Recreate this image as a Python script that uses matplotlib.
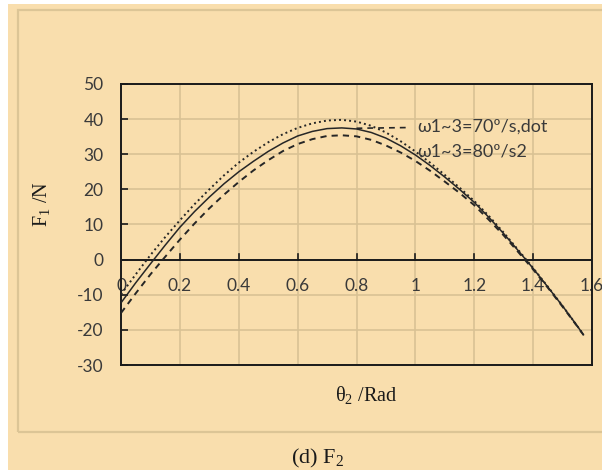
import numpy as np
import matplotlib
matplotlib.use("Agg")
import matplotlib.pyplot as plt
from matplotlib.patches import Rectangle

# ---- data ----
theta = [0.0, 0.05, 0.1, 0.15, 0.2, 0.25, 0.3, 0.35, 0.4, 0.45, 0.5, 0.55, 0.6, 0.65, 0.7, 0.75,
         0.8, 0.85, 0.9, 0.95, 1.0, 1.05, 1.1, 1.15, 1.2, 1.25, 1.3, 1.35, 1.4, 1.45, 1.5, 1.55, 1.5708]
f_solid = [-12.3, -6.6, -1.2, 4.1, 9.2, 13.7, 17.8, 21.6, 25.0, 28.0, 30.8, 33.2, 35.2, 36.5, 37.3, 37.5,
           37.2, 36.2, 34.6, 32.4, 29.8, 26.8, 23.5, 20.0, 16.3, 12.0, 7.4, 2.5, -2.5, -7.8, -13.2, -18.9, -21.4]
f_dot = [-9.9, -4.2, 1.3, 6.4, 11.2, 15.8, 20.0, 24.0, 27.6, 30.7, 33.4, 35.7, 37.5, 38.8, 39.6, 39.8,
         39.3, 38.1, 36.2, 33.7, 30.8, 27.6, 24.1, 20.5, 16.7, 12.4, 7.7, 2.7, -2.4, -7.7, -13.2, -18.9, -21.4]
f_dash = [-15.2, -9.6, -4.2, 0.8, 5.7, 10.3, 14.6, 18.5, 22.1, 25.4, 28.3, 30.9, 32.9, 34.3, 35.2, 35.4,
          35.1, 34.1, 32.5, 30.5, 28.1, 25.3, 22.2, 19.0, 15.5, 11.3, 6.9, 2.1, -2.8, -8.0, -13.4, -19.0, -21.4]

xticks = [0, 0.2, 0.4, 0.6, 0.8, 1.0, 1.2, 1.4, 1.6]
xtick_labels = ["0", "0.2", "0.4", "0.6", "0.8", "1", "1.2", "1.4", "1.6"]
yticks = [-30, -20, -10, 0, 10, 20, 30, 40, 50]
label_70 = "ω1~3=70º/s,dot"
label_80 = "ω1~3=80º/s2"

W, H = 602, 470
BG = "#F9DEAD"
GRID = "#D9C294"
INK = "#262626"
TXT = "#3a3a3a"

plt.rcParams['mathtext.fontset'] = 'custom'
plt.rcParams['mathtext.rm'] = 'Liberation Serif'
plt.rcParams['axes.unicode_minus'] = False

fig = plt.figure(figsize=(W / 100, H / 100), dpi=100, facecolor="white")

# page background and inner frame
fig.patches.append(Rectangle((8 / W, 0), 1 - 8 / W, 1 - 4 / H, transform=fig.transFigure,
                             facecolor=BG, edgecolor="none", zorder=-5))
fig.patches.append(Rectangle((18 / W, 1 - 432 / H), 1.0, (432 - 10) / H, transform=fig.transFigure,
                             facecolor="none", edgecolor="#DCC596", linewidth=1.6, zorder=-4))

ax_l, ax_r, ax_t, ax_b = 121, 592, 84, 365
ax = fig.add_axes([ax_l / W, 1 - ax_b / H, (ax_r - ax_l) / W, (ax_b - ax_t) / H])
ax.set_zorder(2)
ax.set_facecolor("none")
ax.set_xlim(0, 1.6)
ax.set_ylim(-30, 50)

ax.set_xticks(xticks)
ax.set_yticks(yticks)
ax.grid(True, color=GRID, linewidth=1.2, zorder=0)
ax.set_axisbelow(True)

for s in ax.spines.values():
    s.set_color("#1a1a1a")
    s.set_linewidth(1.4)

# x axis at zero
ax.axhline(0, color="#1a1a1a", linewidth=1.4, zorder=2)
ax.tick_params(axis='x', which='both', bottom=False, labelbottom=False)
for xv in xticks[1:-1]:
    ax.plot([xv, xv], [0, 1.5], color="#1a1a1a", linewidth=1.2, zorder=2)
for xv, lab in zip(xticks, xtick_labels):
    ax.text(xv, -7.6, lab, ha="center", va="center", fontsize=12.5, color=TXT, family="Lato", zorder=1)

ax.tick_params(axis='y', direction='in', length=5, width=1.2, color="#1a1a1a",
               labelsize=12.5, labelcolor=TXT, pad=12.5)
ax.set_yticklabels([str(v) for v in yticks])
for lab in ax.get_yticklabels():
    lab.set_family("Lato")

# curves
ax.plot(theta, f_solid, color=INK, linewidth=1.1, linestyle="-", zorder=3)
ax.plot(theta, f_dot, color=INK, linewidth=1.4, linestyle=(0, (1.0, 1.6)), zorder=3)
ax.plot(theta, f_dash, color=INK, linewidth=1.4, linestyle=(0, (3.2, 2.6)), zorder=3)

# labels
ax.plot([0.8, 0.975], [37.4, 37.6], color=INK, linewidth=1.2, linestyle=(0, (3.5, 3.0)), zorder=3)
ax.text(1.006, 37.9, label_70, ha="left", va="center", fontsize=13, color=TXT, family="Lato", zorder=4)
ax.text(1.006, 30.9, label_80, ha="left", va="center", fontsize=13, color=TXT, family="Lato", zorder=4)

fig.text(42 / W, 1 - 204 / H, "F$_\\mathregular{1}$ /N", rotation=90, ha="center", va="center",
         fontsize=14.5, family="Liberation Serif", color="#1a1a1a")
fig.text(366 / W, 1 - 396 / H, "θ$_\\mathregular{2}$ /Rad", ha="center", va="center",
         fontsize=14.5, family="Liberation Serif", color="#1a1a1a")
fig.text(317 / W, 1 - 458 / H, "(d) F$_\\mathregular{2}$", ha="center", va="center",
         fontsize=16, family="Liberation Serif", color="#1a1a1a")

fig.savefig("out.png", dpi=100, facecolor=fig.get_facecolor())
